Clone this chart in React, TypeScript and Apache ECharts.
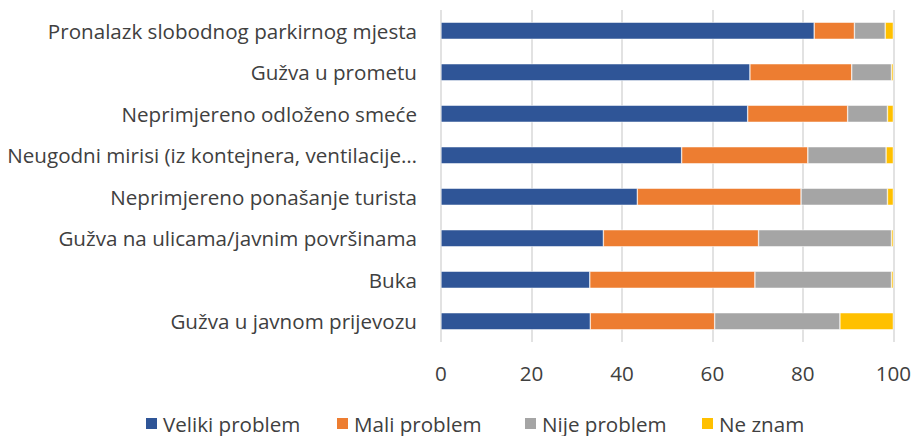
import React, { useEffect, useRef } from "react";
import * as echarts from "echarts";

const categories = [
  "Pronalazk slobodnog parkirnog mjesta",
  "Gužva u prometu",
  "Neprimjereno odloženo smeće",
  "Neugodni mirisi (iz kontejnera, ventilacije…",
  "Neprimjereno ponašanje turista",
  "Gužva na ulicama/javnim površinama",
  "Buka",
  "Gužva u javnom prijevozu",
];
const seriesNames = ["Veliki problem", "Mali problem", "Nije problem", "Ne znam"];
const veliki = [82.5, 68.3, 67.8, 53.2, 43.4, 35.9, 32.9, 33.0];
const mali = [8.9, 22.5, 22.1, 27.9, 36.2, 34.3, 36.5, 27.5];
const nije = [6.8, 8.8, 8.8, 17.3, 19.1, 29.4, 30.2, 27.7];
const neZnam = [1.8, 0.4, 1.3, 1.6, 1.3, 0.4, 0.4, 11.8];
const xTicks = [0, 20, 40, 60, 80, 100];

const colors = ["#2F5597", "#ED7D31", "#A5A5A5", "#FFC000"];
const legendLefts = [144, 335, 523, 700];
const FONT = "Open Sans";
const TEXT = "#404040";
const FS = 20.6;

export default function App() {
  const ref = useRef<HTMLDivElement>(null);
  useEffect(() => {
    if (!ref.current) return;
    const chart = echarts.init(ref.current, undefined, { renderer: "svg" });
    const data = [veliki, mali, nije, neZnam];
    chart.setOption({
      animation: false,
      color: colors,
      textStyle: { fontFamily: FONT },
      grid: { left: 441, right: 19, top: 10, bottom: 94, containLabel: false },
      legend: seriesNames.map((name, i) => ({
        data: [name],
        left: legendLefts[i],
        top: 413,
        padding: 0,
        itemWidth: 13,
        itemHeight: 13,
        icon: "rect",
        textStyle: { fontFamily: FONT, fontSize: FS, color: TEXT },
      })),
      xAxis: {
        type: "value",
        min: xTicks[0],
        max: xTicks[xTicks.length - 1],
        interval: 20,
        axisLine: { show: false },
        axisTick: { show: false },
        splitLine: { show: true, lineStyle: { color: "#D9D9D9", width: 1.5 } },
        axisLabel: { fontFamily: FONT, fontSize: FS, color: TEXT, margin: 20 },
      },
      yAxis: {
        type: "category",
        data: categories,
        inverse: true,
        axisLine: { show: false },
        axisTick: { show: false },
        axisLabel: { fontFamily: FONT, fontSize: FS, color: TEXT, margin: 24 },
      },
      series: seriesNames.map((name, i) => ({
        name,
        type: "bar",
        stack: "total",
        barWidth: 17,
        data: data[i],
        itemStyle: { color: colors[i], borderColor: "#ffffff", borderWidth: 0.5 },
      })),
    });
    return () => chart.dispose();
  }, []);
  return (
    <div
      ref={ref}
      style={{ position: "fixed", left: 0, top: 0, width: 914, height: 436, background: "#fff" }}
    />
  );
}
